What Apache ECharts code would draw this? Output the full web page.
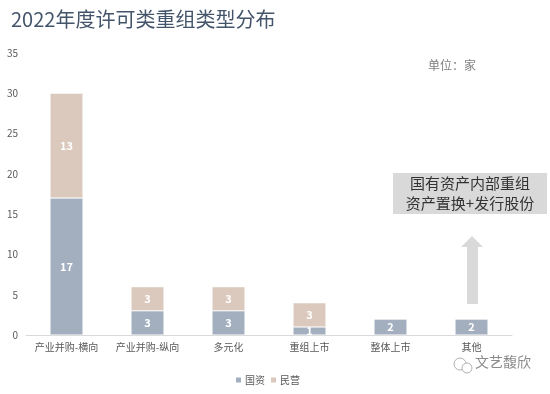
<!DOCTYPE html>
<html><head><meta charset="utf-8">
<script src="https://cdn.jsdelivr.net/npm/echarts@6/dist/echarts.min.js"></script>
<style>html,body{margin:0;padding:0;background:#fff}#c{width:550px;height:394px}</style>
</head><body><div id="c"></div>
<script>
var categories = ['产业并购-横向','产业并购-纵向','多元化','重组上市','整体上市','其他'];
var stateOwned = [17,3,3,1,2,2];
var privateOwned = [13,3,3,3,0,0];
var seriesNames = ['国资','民营'];
var yTicks = {min:0, max:35, interval:5};

var chart = echarts.init(document.getElementById('c'));
var F = '"Noto Sans CJK SC","Noto Sans",sans-serif';
chart.setOption({
  animation:false,
  textStyle:{fontFamily:F},
  title:{text:'2022年度许可类重组类型分布',left:6,top:4,textStyle:{fontSize:20,fontWeight:'normal',color:'#44546a',fontFamily:F}},
  legend:{data:seriesNames,top:370,left:229,itemWidth:7,itemHeight:7,itemGap:4,icon:'rect',
    textStyle:{fontSize:10,color:'#595959',padding:[0,0,0,-2]}},
  grid:{left:26,right:38,top:53,bottom:59,containLabel:false},
  xAxis:{type:'category',data:categories,axisLine:{lineStyle:{color:'#d9d9d9'}},axisTick:{show:false},
    axisLabel:{fontSize:10,color:'#595959',margin:7,interval:0}},
  yAxis:{type:'value',min:yTicks.min,max:yTicks.max,interval:yTicks.interval,splitLine:{show:false},
    axisLine:{show:false},axisTick:{show:false},axisLabel:{fontSize:10,color:'#595959',margin:8}},
  series:[
    {name:seriesNames[0],type:'bar',stack:'a',data:stateOwned,barWidth:33,itemStyle:{color:'#a3afbf',borderColor:'#fff',borderWidth:0.5},
     label:{show:true,position:'inside',color:'#fff',fontSize:11,fontWeight:'bold'}},
    {name:seriesNames[1],type:'bar',stack:'a',data:privateOwned,barWidth:33,itemStyle:{color:'#dac9bc',borderColor:'#fff',borderWidth:0.5},
     label:{show:true,position:'inside',color:'#fff',fontSize:11,fontWeight:'bold',formatter:function(p){return p.value?p.value:'';}}}
  ],
  graphic:[
    {type:'text',left:428,top:59,style:{text:'单位：家',fontSize:12,fill:'#7f7f7f',fontFamily:F}},
    {type:'rect',shape:{x:393,y:173,width:154,height:41},style:{fill:'#d9d9d9'}},
    {type:'text',x:470,y:193.5,style:{text:'国有资产内部重组\n资产置换+发行股份',fontSize:15,lineHeight:20,fill:'#333',align:'center',verticalAlign:'middle',fontFamily:F}},
    {type:'polygon',shape:{points:[[472,236],[483,247],[478,247],[478,304],[467,304],[467,247],[461,247]]},style:{fill:'#d9d9d9'}},
    {type:'text',left:475,top:355,style:{text:'文艺馥欣',fontSize:14,fill:'#8c8c8c',fontFamily:F}},
    {type:'circle',shape:{cx:460,cy:364,r:6},style:{fill:'none',stroke:'#b0b0b0',lineWidth:1}},
    {type:'circle',shape:{cx:467,cy:368,r:5},style:{fill:'#fff',stroke:'#b0b0b0',lineWidth:1}}
  ]
});
</script></body></html>
